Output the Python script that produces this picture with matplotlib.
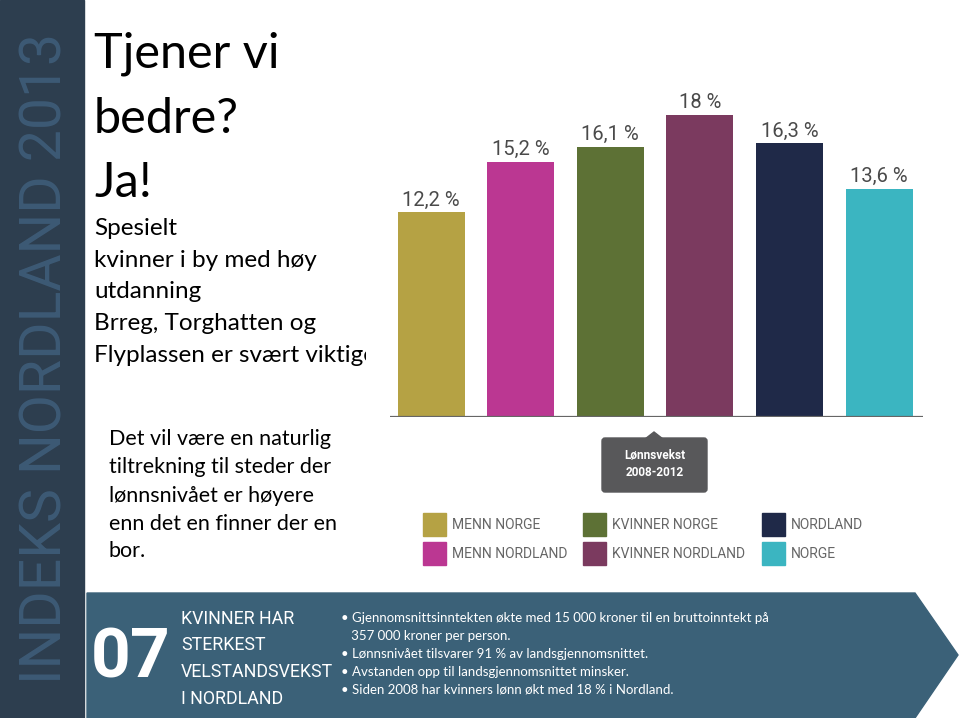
import numpy as np
import matplotlib.pyplot as plt
from matplotlib.patches import Rectangle, Polygon, FancyBboxPatch
from matplotlib.transforms import Bbox, TransformedBbox

# data
categories = ['MENN NORGE', 'MENN NORDLAND', 'KVINNER NORGE',
              'KVINNER NORDLAND', 'NORDLAND', 'NORGE']
values = [12.2, 15.2, 16.1, 18.0, 16.3, 13.6]
value_labels = ['12,2 %', '15,2 %', '16,1 %', '18 %', '16,3 %', '13,6 %']
colors = ['#b5a244', '#bb3792', '#5d7135', '#7b3a5f', '#1f2948', '#3bb5c1']

title_lines = ['Tjener vi', 'bedre?', 'Ja!']
sub_lines = ['Spesielt', 'kvinner i by med høy', 'utdanning',
             'Brreg, Torghatten og', 'Flyplassen er svært viktige']
note_lines = ['Det vil være en naturlig', 'tiltrekning til steder der',
              'lønnsnivået er høyere', 'enn det en finner der en', 'bor.']
banner_head = ['KVINNER HAR', 'STERKEST', 'VELSTANDSVEKST', 'I NORDLAND']
banner_bullets = ['• Gjennomsnittsinntekten økte med 15 000 kroner til en bruttoinntekt på',
                  '   357 000 kroner per person.',
                  '• Lønnsnivået tilsvarer 91 % av landsgjennomsnittet.',
                  '• Avstanden opp til landsgjennomsnittet minsker.',
                  '• Siden 2008 har kvinners lønn økt med 18 % i Nordland.']
callout_text = 'Lønnsvekst\n2008-2012'
side_text = 'INDEKS NORDLAND 2013'

cond = ['Roboto', 'DejaVu Sans']
body = ['Lato', 'DejaVu Sans']

W, H = 960, 718
fig = plt.figure(figsize=(9.6, 7.18), dpi=100)
fig.patch.set_facecolor('white')

# background axes in pixel coordinates
bg = fig.add_axes([0, 0, 1, 1])
bg.set_xlim(0, W)
bg.set_ylim(H, 0)
bg.axis('off')

# left sidebar
bg.add_patch(Rectangle((0, 0), 84, H, color='#2d3e4f', zorder=1))
bg.text(46, 358, side_text, rotation=90, ha='center', va='center',
        fontsize=41, fontweight='normal', color='#3d5a75', family=cond, zorder=2)

# title block
for line, yb in zip(title_lines, [68, 133, 197]):
    bg.text(94, yb, line, fontsize=35, family=body, va='baseline', color='black')
# text is cut where the chart image starts, as in the slide
clip = TransformedBbox(Bbox.from_extents(80 / W, 0, 366 / W, 1), fig.transFigure)
for line, yb in zip(sub_lines, [235, 267, 298, 330, 362]):
    t = bg.text(94, yb, line, fontsize=17.5, family=body, va='baseline', color='black')
    t.set_clip_box(clip)
    t.set_clip_on(True)
for line, yb in zip(note_lines, [445, 473, 502, 530, 557]):
    bg.text(109, yb, line, fontsize=15.5, family=body, va='baseline', color='black')

# bar chart
ax = fig.add_axes([390 / W, (H - 417) / H, 533 / W, 336 / H])
x = np.arange(len(values))
ax.bar(x, values, width=0.748, color=colors, zorder=2)
ax.axhline(0, color='#666666', lw=1.6, zorder=3)
for xi, v, lbl in zip(x, values, value_labels):
    ax.annotate(lbl, (xi, v), xytext=(0, 4.5), textcoords='offset points',
                ha='center', va='baseline', fontsize=14.5, color='#4a4a4a',
                family=cond)
ax.set_xlim(-0.458, 5.49)
ax.set_ylim(0, 20)
ax.axis('off')

# callout box
bg.add_patch(FancyBboxPatch((602, 438), 105, 54,
                            boxstyle='round,pad=0,rounding_size=3',
                            color='#58585a', zorder=2))
bg.add_patch(Polygon([(645, 439), (654, 432), (663, 439)],
                     closed=True, color='#58585a', zorder=2))
bg.text(654.5, 464, callout_text, ha='center', va='center', fontsize=8.5,
        fontweight='bold', color='white', family=cond, linespacing=1.35,
        zorder=3)

# legend
col_x = [423, 583, 762]
row_y = [513, 542]
for i, (lab, c) in enumerate(zip(categories, colors)):
    cx = col_x[i // 2]
    ry = row_y[i % 2]
    bg.add_patch(Rectangle((cx, ry), 23, 23, color=c, zorder=2))
    bg.text(cx + 29, ry + 12, lab, ha='left', va='center', fontsize=10,
            color='#666666', family=cond)

# bottom banner
bg.add_patch(Polygon([(87, 593), (915, 593), (958, 655), (915, 718), (87, 718)],
                     closed=True, color='#3b6178', zorder=1))
bg.text(131, 659, '07', ha='center', va='center', fontsize=50,
        fontweight='bold', color='white', family=cond, zorder=2)
for line, yb in zip(banner_head, [624, 650, 677, 704]):
    bg.text(181, yb, line, ha='left', va='baseline', fontsize=12.8,
            fontweight='normal', color='white', family=cond, zorder=2)
for line, yc in zip(banner_bullets, [618, 636, 654, 672, 690]):
    bg.text(341, yc, line, ha='left', va='center', fontsize=9.5,
            color='white', family=body, zorder=2)

fig.savefig('out.png', dpi=100)
